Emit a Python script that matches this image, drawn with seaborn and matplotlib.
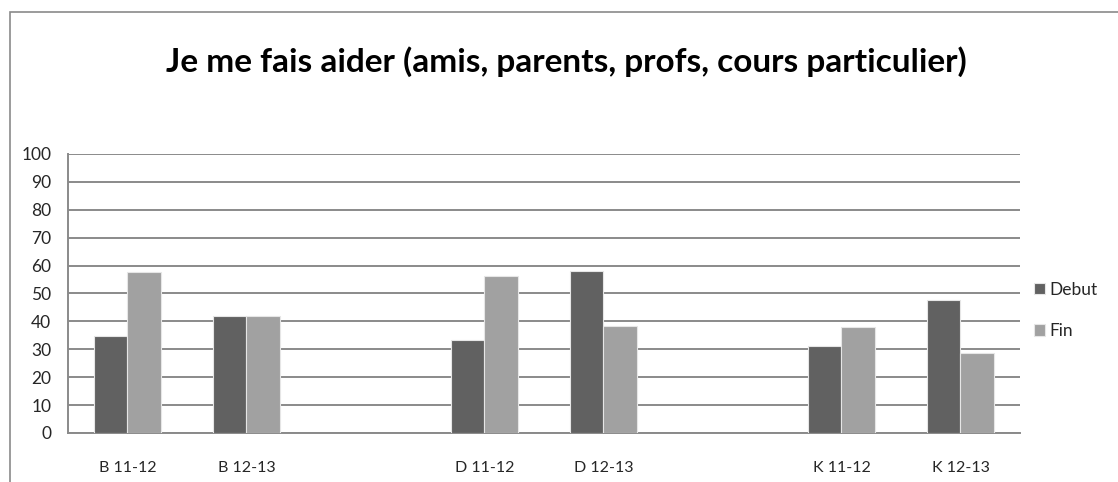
import pandas as pd
import matplotlib
matplotlib.use("Agg")
import matplotlib.pyplot as plt
import seaborn as sns
from matplotlib.patches import Rectangle

# values
groups = ["B 11-12", "B 12-13", "D 11-12", "D 12-13", "K 11-12", "K 12-13"]
debut = [34.6, 42.1, 33.4, 58.2, 31.0, 47.5]
fin = [57.6, 42.1, 56.4, 38.5, 37.9, 28.6]
series = ["Debut", "Fin"]
# empty slots between B, D and K
order = ["B 11-12", "B 12-13", " ", "D 11-12", "D 12-13", "  ", "K 11-12", "K 12-13"]
y_ticks = list(range(0, 101, 10))

df = pd.DataFrame({
    "groupe": groups * 2,
    "serie": ["Debut"] * len(groups) + ["Fin"] * len(groups),
    "valeur": debut + fin,
})

sns.set_theme(style="white")
plt.rcParams["font.family"] = ["Lato", "DejaVu Sans"]

fig = plt.figure(figsize=(11.18, 4.82), dpi=100)
ax = fig.add_axes([0.0608, 0.1017, 0.8515, 0.5788])

sns.barplot(data=df, x="groupe", y="valeur", hue="serie", order=order,
            hue_order=series, palette=["#616161", "#a1a1a1"], width=0.56,
            gap=0, edgecolor="#e6e6e6", linewidth=0.8, ax=ax, zorder=3)

ax.set_ylim(0, 100)
ax.set_xlim(-0.5, len(order) - 0.5)
ax.set_yticks(y_ticks)
ax.set_yticklabels([str(v) for v in y_ticks], fontsize=12.5)
ax.tick_params(axis="y", length=0, pad=12)
ax.tick_params(axis="x", length=0, pad=20, labelsize=11.5)
ax.set_xlabel("")
ax.set_ylabel("")
ax.yaxis.grid(True, color="#8a8a8a", linewidth=1.4, zorder=0)
for side in ["top", "right"]:
    ax.spines[side].set_visible(False)
ax.spines["left"].set_color("#8a8a8a")
ax.spines["left"].set_linewidth(1.4)
ax.spines["bottom"].set_color("#8a8a8a")
ax.spines["bottom"].set_linewidth(1.4)

leg = ax.legend(loc="center left", bbox_to_anchor=(0.998, 0.44), frameon=False,
                fontsize=12.5, handlelength=0.65, handleheight=0.65,
                handletextpad=0.25, labelspacing=1.45)

fig.text(0.507, 0.872, "Je me fais aider (amis, parents, profs, cours particulier)",
         ha="center", va="center", fontsize=24, fontweight="bold", color="black")

# outer chart frame
fig.patches.append(Rectangle((10 / 1118, -0.1), 1.2, 1.1 - 12 / 482,
                             transform=fig.transFigure, fill=False,
                             edgecolor="#8a8a8a", linewidth=1.2))

fig.savefig("out.png", dpi=100)
